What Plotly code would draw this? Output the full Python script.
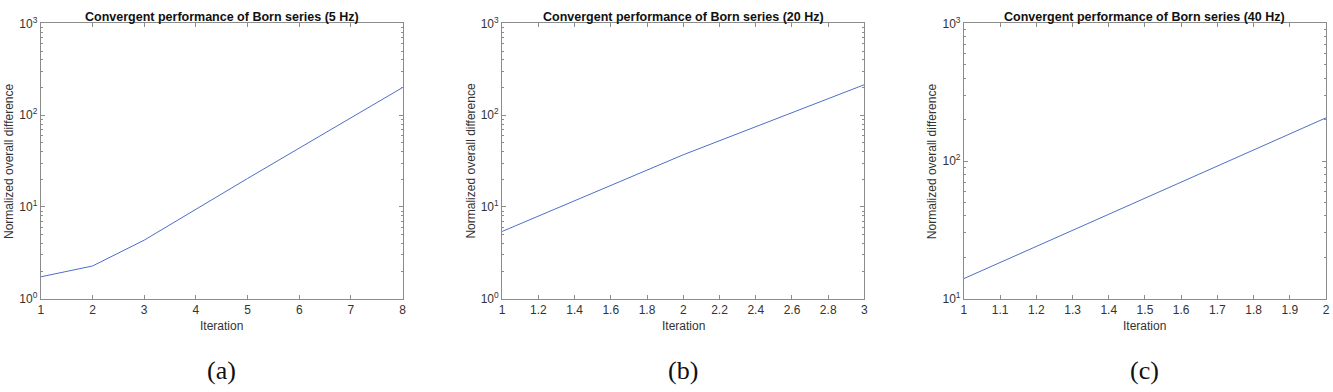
import plotly.graph_objects as go

# ---- data ----
iter_a = [1, 2, 3, 4, 5, 6, 7, 8]
diff_a = [1.73, 2.27, 4.34, 9.5, 20.4, 43.7, 93.5, 200]
iter_b = [1, 2, 3]
diff_b = [5.4, 37, 215]
iter_c = [1, 2]
diff_c = [14.0, 206]

titles = ["Convergent performance of Born series (5 Hz)",
          "Convergent performance of Born series (20 Hz)",
          "Convergent performance of Born series (40 Hz)"]
captions = ["(a)", "(b)", "(c)"]
xticks_a = [1, 2, 3, 4, 5, 6, 7, 8]
xticks_b = [1, 1.2, 1.4, 1.6, 1.8, 2, 2.2, 2.4, 2.6, 2.8, 3]
xticks_c = [1, 1.1, 1.2, 1.3, 1.4, 1.5, 1.6, 1.7, 1.8, 1.9, 2]
ytick_vals_ab = [1, 10, 100, 1000]
ytick_text_ab = ["10<sup>0</sup>", "10<sup>1</sup>", "10<sup>2</sup>", "10<sup>3</sup>"]
ytick_vals_c = [10, 100, 1000]
ytick_text_c = ["10<sup>1</sup>", "10<sup>2</sup>", "10<sup>3</sup>"]
x_ranges = [[1, 8], [1, 3], [1, 2]]
y_ranges = [[0, 3], [0, 3], [1, 3]]

W, H = 1333, 392
x_doms = [[38 / W, 401.7 / W], [501.7 / W, 866 / W], [966 / W, 1330 / W]]
y_dom = [1 - 302 / H, 1 - 15 / H]

LINE = "#4f6fc8"
AXC = "#8c8c8c"
TXT = "#333333"
FONT = "Liberation Sans, Arial, sans-serif"

fig = go.Figure()
series = [(iter_a, diff_a), (iter_b, diff_b), (iter_c, diff_c)]
xticks = [xticks_a, xticks_b, xticks_c]
for i, (xs, ys) in enumerate(series):
    sfx = "" if i == 0 else str(i + 1)
    fig.add_trace(go.Scatter(x=xs, y=ys, mode="lines",
                             line=dict(color=LINE, width=1),
                             xaxis="x" + sfx, yaxis="y" + sfx,
                             showlegend=False, hoverinfo="skip"))
    tv, tt = (ytick_vals_c, ytick_text_c) if i == 2 else (ytick_vals_ab, ytick_text_ab)
    fig.layout["xaxis" + sfx] = dict(
        domain=x_doms[i], anchor="y" + sfx, range=x_ranges[i],
        tickvals=xticks[i], ticktext=[f"{v:g}" for v in xticks[i]],
        showgrid=False, zeroline=False, showline=True, linecolor=AXC,
        linewidth=1, mirror="allticks", ticks="inside", ticklen=4, tickcolor=AXC,
        ticklabeloverflow="allow",
        tickfont=dict(size=12, color=TXT, family=FONT))
    fig.layout["yaxis" + sfx] = dict(
        domain=y_dom, anchor="x" + sfx, type="log", range=y_ranges[i],
        tickvals=tv, ticktext=tt, showgrid=False, zeroline=False, showline=True,
        linecolor=AXC, linewidth=1, mirror="allticks", ticks="inside", ticklen=4,
        tickcolor=AXC, tickfont=dict(size=12, color=TXT, family=FONT),
        ticklabeloverflow="allow",
        minor=dict(ticks="inside", ticklen=2, tickcolor=AXC, dtick="D1", showgrid=False))
    cx = (x_doms[i][0] + x_doms[i][1]) / 2
    fig.add_annotation(x=cx, y=1, xref="paper", yref="paper", text="<b>" + titles[i] + "</b>",
                       showarrow=False, font=dict(size=12.5, color="#111111", family=FONT),
                       xanchor="center", yanchor="top", borderpad=0)
    fig.add_annotation(x=cx, y=1 - 331 / H, xref="paper", yref="paper", text="Iteration",
                       showarrow=False, font=dict(size=12, color=TXT, family=FONT),
                       xanchor="center", yanchor="middle")
    fig.add_annotation(x=cx, y=1 - 377 / H, xref="paper", yref="paper", text=captions[i],
                       showarrow=False, font=dict(size=26, color="#111111", family="Liberation Serif, DejaVu Serif, serif"),
                       xanchor="center", yanchor="middle")
    ylab_x = [6, 470, 934][i]
    fig.add_annotation(x=ylab_x / W, y=(y_dom[0] + y_dom[1]) / 2, xref="paper", yref="paper",
                       text="Normalized overall difference", textangle=-90,
                       showarrow=False, font=dict(size=12, color=TXT, family=FONT),
                       xanchor="center", yanchor="middle")

fig.update_layout(width=W, height=H, margin=dict(l=0, r=0, t=0, b=0),
                  paper_bgcolor="white", plot_bgcolor="white", hovermode=False)
fig.write_html("out.html", config={"displayModeBar": False},
               post_script="document.body.style.margin='0';document.body.style.overflow='hidden';")
